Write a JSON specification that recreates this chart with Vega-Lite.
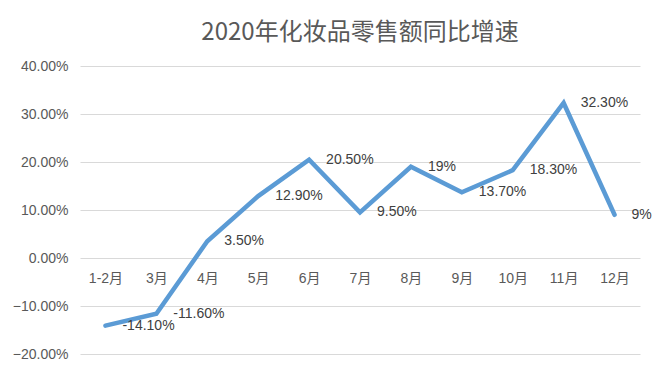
{
  "$schema": "https://vega.github.io/schema/vega-lite/v6.json",
  "width": 560,
  "height": 288,
  "autosize": {"type": "none"},
  "padding": {"left": 80, "top": 66, "right": 17, "bottom": 17},
  "background": "white",
  "title": {
    "text": "2020年化妆品零售额同比增速",
    "font": "Noto Sans CJK SC",
    "fontSize": 24,
    "fontWeight": "normal",
    "color": "#595959",
    "anchor": "middle",
    "offset": 14
  },
  "config": {
    "view": {"stroke": null},
    "font": "Liberation Sans"
  },
  "data": {
    "values": [
      {"month": "1-2月", "value": -0.141, "label": "-14.10%"},
      {"month": "3月", "value": -0.116, "label": "-11.60%"},
      {"month": "4月", "value": 0.035, "label": "3.50%"},
      {"month": "5月", "value": 0.129, "label": "12.90%"},
      {"month": "6月", "value": 0.205, "label": "20.50%"},
      {"month": "7月", "value": 0.095, "label": "9.50%"},
      {"month": "8月", "value": 0.19, "label": "19%"},
      {"month": "9月", "value": 0.137, "label": "13.70%"},
      {"month": "10月", "value": 0.183, "label": "18.30%"},
      {"month": "11月", "value": 0.323, "label": "32.30%"},
      {"month": "12月", "value": 0.09, "label": "9%"}
    ]
  },
  "encoding": {
    "x": {
      "field": "month",
      "type": "ordinal",
      "sort": null,
      "scale": {"type": "point", "padding": 0.5},
      "axis": {
        "title": null,
        "orient": "bottom",
        "offset": -96,
        "domain": false,
        "ticks": false,
        "grid": false,
        "labelAngle": 0,
        "labelPadding": 13,
        "labelFont": "Liberation Sans, Noto Sans CJK SC",
        "labelFontSize": 14,
        "labelColor": "#595959"
      }
    },
    "y": {
      "field": "value",
      "type": "quantitative",
      "scale": {"domain": [-0.2, 0.4], "nice": false, "zero": false},
      "axis": {
        "title": null,
        "format": ".2%",
        "values": [-0.2, -0.1, 0, 0.1, 0.2, 0.3, 0.4],
        "domain": false,
        "ticks": false,
        "grid": true,
        "gridColor": "#D9D9D9",
        "gridWidth": 1,
        "labelPadding": 12,
        "labelFont": "Liberation Sans",
        "labelFontSize": 14,
        "labelColor": "#595959"
      }
    }
  },
  "layer": [
    {
      "mark": {"type": "line", "color": "#5B9BD5", "strokeWidth": 4.5, "strokeCap": "round", "strokeJoin": "miter"}
    },
    {
      "mark": {"type": "text", "align": "left", "baseline": "middle", "dx": 17, "fontSize": 14, "font": "Liberation Sans", "color": "#404040"},
      "encoding": {"text": {"field": "label"}}
    }
  ]
}
